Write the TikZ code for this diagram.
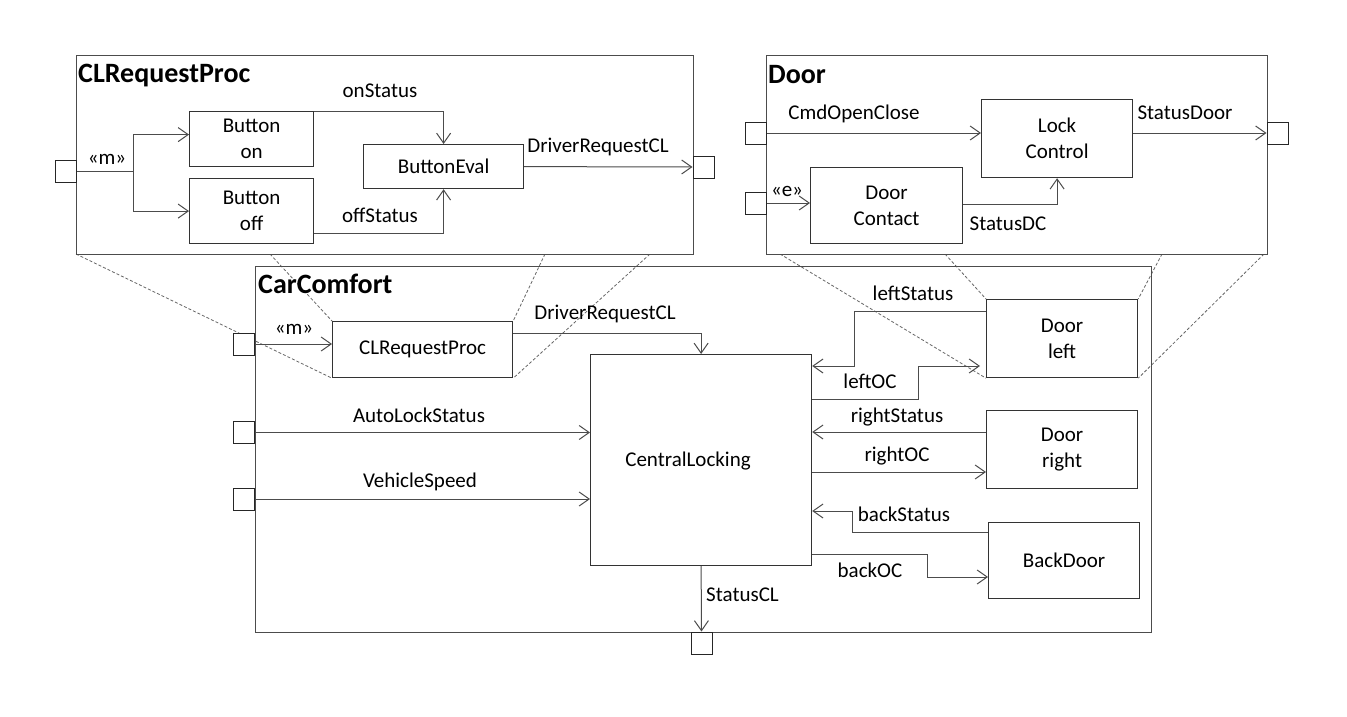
\documentclass[tikz,border=0pt]{standalone}
\usepackage{fontspec}
\setmainfont{Carlito}
\usetikzlibrary{arrows.meta,calc}
\newcommand\lblfont{\fontsize{21}{26}\selectfont}
\newcommand\ttlfont{\bfseries\fontsize{28}{32}\selectfont}
\pgfdeclarelayer{bg}
\pgfsetlayers{bg,main}
\begin{document}
\begin{tikzpicture}[x=1pt,y=-1pt,
  box/.style={draw=black!80, line width=1.2pt, fill=white, inner sep=0pt, align=center, font=\lblfont, anchor=north west},
  frame/.style={draw=black!70, line width=1.2pt, inner sep=0pt, anchor=north west},
  port/.style={draw=black!85, line width=1pt, fill=white, inner sep=0pt, minimum width=21pt, minimum height=22pt},
  conn/.style={draw=black!70, line width=1pt},
  arr/.style={conn, -{Straight Barb[length=10pt,width=14pt,line width=1pt]}},
  lab/.style={inner sep=0pt, anchor=base, font=\lblfont},
  ttl/.style={inner sep=0pt, anchor=base west, font=\ttlfont},
  proj/.style={draw=black!60, line width=0.8pt, dash pattern=on 3pt off 2pt}]
\begin{pgfonlayer}{bg}
\fill[white] (0,0) rectangle (1347,717);
\end{pgfonlayer}
\useasboundingbox (0,0) rectangle (1347,717);

% ---------- CarComfort ----------
\node[frame, minimum width=896pt, minimum height=366pt] (ccf) at (255,266) {};
\node[ttl] (ccttl) at (258,293) {CarComfort};
\node[port] (cin1) at (244,344) {};
\node[port] (cin2) at (244,432.5) {};
\node[port] (cin3) at (244,499) {};
\node[port] (cout) at (701.5,643) {};
\node[box, minimum width=180pt, minimum height=56pt] (clrp) at (332,321) {CLRequestProc};
\node[box, minimum width=221pt, minimum height=211pt] (cl) at (590,354) {};
\node[lab] (cltxt) at (688,466) {CentralLocking};
\node[box, minimum width=151pt, minimum height=78pt] (doorl) at (986,299) {Door\\left};
\node[box, minimum width=151pt, minimum height=78pt] (doorr) at (986,410) {Door\\right};
\node[box, minimum width=151pt, minimum height=76pt] (backd) at (988,522) {BackDoor};

% ---------- CLRequestProc ----------
\node[frame, fill=white, minimum width=617pt, minimum height=199pt] (clf) at (76,55) {};
\node[ttl] (clttl) at (78,83) {CLRequestProc};
\node[port] (clin) at (65.5,171) {};
\node[port] (clout) at (703.5,167) {};
\node[box, minimum width=124pt, minimum height=55pt] (bon) at (189,111) {Button\\on};
\node[box, minimum width=124pt, minimum height=65pt] (boff) at (189,178) {Button\\off};
\node[box, minimum width=160pt, minimum height=44pt] (beval) at (363,144) {ButtonEval};

% ---------- Door ----------
\node[frame, fill=white, minimum width=501pt, minimum height=199pt] (drf) at (766,55) {};
\node[ttl] (drttl) at (768,84) {Door};
\node[port] (din1) at (755.5,133) {};
\node[port] (din2) at (755.5,203) {};
\node[port] (dout) at (1277.5,133) {};
\node[box, minimum width=151pt, minimum height=78pt] (lockc) at (981,99) {Lock\\Control};
\node[box, minimum width=152pt, minimum height=76pt] (dcont) at (810,167) {Door\\Contact};

% ---------- projection lines ----------
\coordinate (pa) at (76,254);
\coordinate (pb) at (270,254);
\coordinate (pc) at (545,254);
\coordinate (pd) at (650,254);
\coordinate (pe) at (780,254);
\coordinate (pf) at (945,254);
\coordinate (pg) at (1162,254);
\coordinate (ph) at (1264,254);
\begin{pgfonlayer}{bg}
\draw[proj] (pa) -- (clrp.south west);
\draw[proj] (pb) -- (clrp.north west);
\draw[proj] (pc) -- (clrp.north east);
\draw[proj] (pd) -- (clrp.south east);
\draw[proj] (pe) -- (doorl.south west);
\draw[proj] (pf) -- (doorl.north west);
\draw[proj] (pg) -- (doorl.north east);
\draw[proj] (ph) -- (doorl.south east);
\end{pgfonlayer}

% ---------- CLRequestProc connectors ----------
\coordinate (br) at (133,171);
\draw[conn] (clin.east) -- (br);
\draw[arr] (br) |- ([yshift=4.5pt]bon.west);
\draw[arr] (br) |- (boff.west);
\draw[arr] (bon.north east) -| (beval.north);
\draw[arr] ([yshift=11pt]boff.south east) -| (beval.south);
\draw[arr] (beval.east) -- (clout.west);
\node[lab] (lm1) at (107,164) {«m»};
\node[lab] (lon) at (380,97) {onStatus};
\node[lab] (loff) at (380,222) {offStatus};
\node[lab] (ldr1) at (598,152) {DriverRequestCL};

% ---------- Door connectors ----------
\draw[arr] (din1.east) -- (din1.east -| lockc.west);
\draw[arr] (din2.east) -- (din2.east -| dcont.west);
\draw[arr] ([yshift=1pt]dcont.east) -| (lockc.south);
\draw[arr] (lockc.east |- dout.west) -- (dout.west);
\node[lab] (lcmd) at (854,119) {CmdOpenClose};
\node[lab] (lsd) at (1185,119) {StatusDoor};
\node[lab] (lsdc) at (1008,230) {StatusDC};
\node[lab] (le) at (787,196) {«e»};

% ---------- CarComfort connectors ----------
\draw[arr] (cin1.east) -- (cin1.east -| clrp.west);
\draw[arr] (cin2.east) -- (cin2.east -| cl.west);
\draw[arr] (cin3.east) -- (cin3.east -| cl.west);
\draw[arr] ([yshift=16pt]clrp.east) -| (cl.north);
\draw[arr] (cl.south) -- (cout.north);
\node[lab] (lm2) at (294,334) {«m»};
\node[lab] (ldr2) at (605,319) {DriverRequestCL};
\node[lab] (lals) at (419,422) {AutoLockStatus};
\node[lab] (lvs) at (420,487) {VehicleSpeed};
\node[lab, anchor=base west] (lscl) at (706,601) {StatusCL};

\draw[arr] (doorl.west |- 0,311) -- (854,311) -- (854,366) -- (cl.east |- 0,366);
\draw[arr, shorten >=6pt] (cl.east |- 0,399) -- (918,399) -- (918,366) -- (doorl.west |- 0,366);
\draw[arr] (doorr.west |- 0,432) -- (cl.east |- 0,432);
\draw[arr] (cl.east |- 0,472) -- (doorr.west |- 0,472);
\draw[arr] (backd.west |- 0,532) -- (852,532) -- (852,511) -- (cl.east |- 0,511);
\draw[arr] (cl.east |- 0,554) -- (927,554) -- (927,577) -- (backd.west |- 0,577);
\node[lab] (lls) at (913,300) {leftStatus};
\node[lab] (lloc) at (870,388) {leftOC};
\node[lab] (lrs) at (897,422) {rightStatus};
\node[lab] (lroc) at (897,461) {rightOC};
\node[lab] (lbs) at (904,521) {backStatus};
\node[lab] (lboc) at (870,577) {backOC};
\end{tikzpicture}
\end{document}
